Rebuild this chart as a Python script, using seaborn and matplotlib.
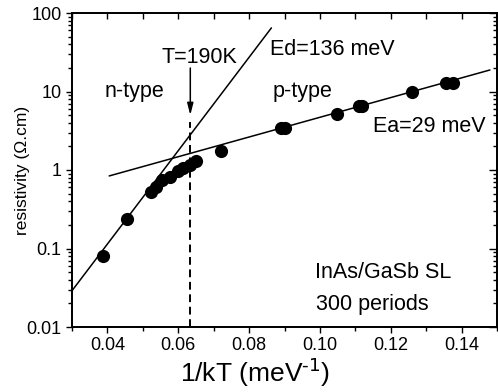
import matplotlib
matplotlib.use('Agg')
import matplotlib.pyplot as plt
from matplotlib.ticker import MultipleLocator, LogLocator, FixedFormatter, FixedLocator, NullFormatter
import seaborn as sns

# ── Datos ─────────────────────────────────────────────────────────────────────
inv_kT = [0.0388, 0.0454, 0.0522, 0.0537, 0.0555, 0.0578, 0.0600, 0.0612,
          0.0632, 0.0651, 0.0722, 0.0889, 0.0901, 0.1047, 0.1110, 0.1118,
          0.1260, 0.1355, 0.1377]
rho = [0.080, 0.238, 0.52, 0.60, 0.75, 0.82, 0.98, 1.05,
       1.16, 1.32, 1.76, 3.38, 3.42, 5.1, 6.6, 6.5,
       9.9, 12.7, 12.8]

# ajustes de activación (extremos de las rectas)
ed_x = [0.030, 0.0863]
ed_y = [0.029, 64.6]
ea_x = [0.0405, 0.148]
ea_y = [0.84, 18.8]

# T = 190 K
t_x = [0.0634, 0.0634]
t_y = [0.01, 4.1]

y_ticks = [0.01, 0.1, 1, 10, 100]
y_labels = ['0.01', '0.1', '1', '10', '100']
x_ticks = [0.04, 0.06, 0.08, 0.10, 0.12, 0.14]
x_labels = ['0.04', '0.06', '0.08', '0.10', '0.12', '0.14']

# ── Estilo ────────────────────────────────────────────────────────────────────
sns.set_style('ticks')
plt.rcParams['font.family'] = ['Liberation Sans', 'DejaVu Sans']
plt.rcParams['mathtext.default'] = 'regular'
plt.rcParams.update({
    'axes.linewidth': 1.1,
    'axes.edgecolor': 'black',
    'xtick.color': 'black',
    'ytick.color': 'black',
    'text.color': 'black',
    'axes.labelcolor': 'black',
})

fig = plt.figure(figsize=(4.98, 3.92), dpi=100)
ax = fig.add_axes([72 / 498, 65 / 392, 425 / 498, 314 / 392])

sns.lineplot(x=ed_x, y=ed_y, color='k', lw=1.1, ax=ax)
sns.lineplot(x=ea_x, y=ea_y, color='k', lw=1.1, ax=ax)
ax.plot(t_x, t_y, color='k', lw=1.4, linestyle=(0, (4, 2.4)))
sns.scatterplot(x=inv_kT, y=rho, color='k', s=90, linewidth=0, ax=ax, zorder=5)

ax.set_yscale('log')
ax.set_xlim(0.03, 0.15)
ax.set_ylim(0.01, 100)

ax.yaxis.set_major_locator(FixedLocator(y_ticks))
ax.yaxis.set_major_formatter(FixedFormatter(y_labels))
ax.yaxis.set_minor_locator(LogLocator(base=10, subs=range(2, 10), numticks=20))
ax.yaxis.set_minor_formatter(NullFormatter())
ax.xaxis.set_major_locator(FixedLocator(x_ticks))
ax.xaxis.set_major_formatter(FixedFormatter(x_labels))
ax.xaxis.set_minor_locator(MultipleLocator(0.01))

ax.tick_params(which='both', direction='out', labelsize=13, colors='black',
               top=False, right=False, pad=3)
ax.tick_params(which='major', length=4.5, width=1.0)
ax.tick_params(which='minor', length=3, width=1.0)

# ejes espejo (ticks hacia dentro)
ax_r = ax.twinx()
ax_r.set_yscale('log')
ax_r.set_ylim(ax.get_ylim())
ax_r.yaxis.set_major_locator(FixedLocator(y_ticks))
ax_r.yaxis.set_minor_locator(LogLocator(base=10, subs=range(2, 10), numticks=20))
ax_r.tick_params(which='both', direction='in', labelright=False, colors='black')
ax_r.tick_params(which='major', length=5.5, width=1.0)
ax_r.tick_params(which='minor', length=3, width=1.0)

ax_t = ax.twiny()
ax_t.set_xlim(ax.get_xlim())
ax_t.xaxis.set_major_locator(FixedLocator(x_ticks))
ax_t.xaxis.set_minor_locator(MultipleLocator(0.01))
ax_t.tick_params(which='both', direction='in', labeltop=False, width=1.0,
                 colors='black')
ax_t.tick_params(which='major', length=4.5)
ax_t.tick_params(which='minor', length=4.5)

ax.set_xlabel(r'1/kT (meV$^{\text{-1}}$)', fontsize=19, va='center')
ax.xaxis.set_label_coords(0.432, -0.146)
ax.set_ylabel('resistivity (Ω.cm)', fontsize=12.5, va='center')
ax.yaxis.set_label_coords(-0.117, 0.5)

# ── Anotaciones ───────────────────────────────────────────────────────────────
fs = 15.5
ax.text(0.0554, 22.9, 'T=190K', fontsize=fs, va='baseline')
ax.text(0.0858, 29.2, 'Ed=136 meV', fontsize=fs, va='baseline')
ax.text(0.0393, 8.63, 'n-type', fontsize=fs, va='baseline')
ax.text(0.0866, 8.63, 'p-type', fontsize=fs, va='baseline')
ax.text(0.1151, 3.08, 'Ea=29 meV', fontsize=fs, va='baseline')
ax.text(0.0985, 0.0417, 'InAs/GaSb SL', fontsize=fs, va='baseline')
ax.text(0.0988, 0.0165, '300 periods', fontsize=fs, va='baseline')
ax.annotate('', xy=(0.0634, 5.0), xytext=(0.0634, 19.9),
            arrowprops=dict(arrowstyle='-|>,head_length=0.7,head_width=0.18',
                            color='k', lw=1.1, shrinkA=0, shrinkB=0))

plt.savefig('out.png', dpi=100)
plt.close()
